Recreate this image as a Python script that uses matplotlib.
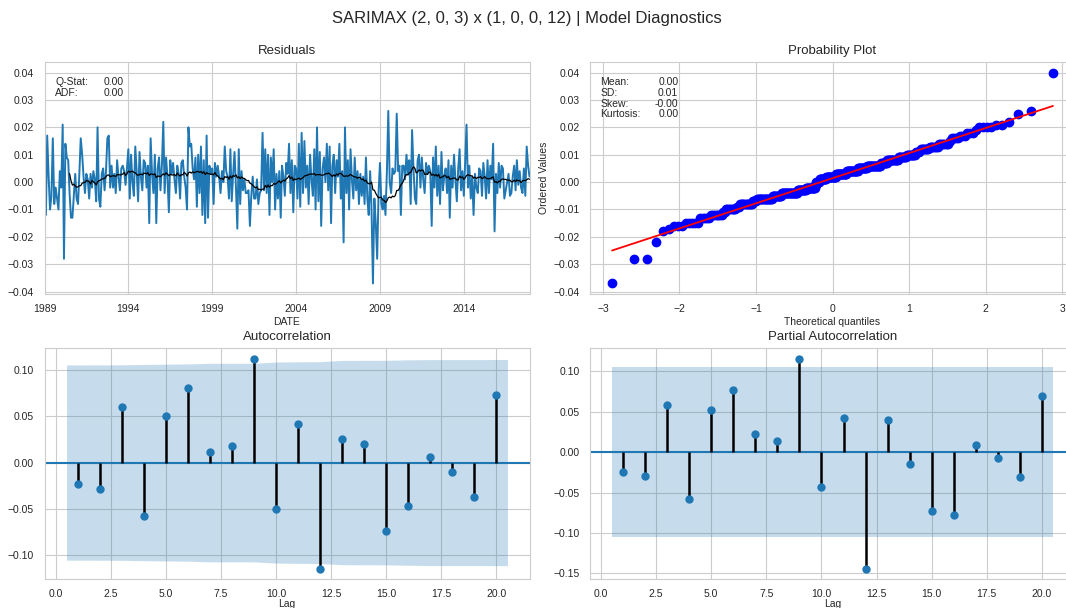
import numpy as np
import pandas as pd
import matplotlib
matplotlib.use("Agg")
import matplotlib.pyplot as plt
import matplotlib.dates as mdates
import seaborn as sns
from statistics import NormalDist

# monthly residuals; the Dec 1988 value sits just left of the plotted window
resid = [
    0.040,                                                                                 # 1988-12
    0.018, -0.012, 0.017, 0.002, -0.010, -0.005, 0.016, -0.008, -0.002, -0.006, -0.010, 0.004,   # 1989
    -0.002, 0.021, -0.028, 0.014, 0.009, 0.008, -0.004, -0.013, -0.013, -0.005, 0.003, -0.006,   # 1990
    -0.008, 0.004, 0.016, 0.010, 0.002, -0.004, 0.003, 0.001, -0.006, 0.003, -0.002, 0.004,      # 1991
    0.001, -0.007, 0.020, -0.006, -0.009, 0.003, 0.005, -0.003, 0.004, 0.016, 0.017, -0.002,     # 1992
    0.006, -0.002, 0.003, -0.004, 0.008, 0.002, -0.003, 0.005, 0.006, 0.004, -0.001, 0.005,      # 1993
    0.012, -0.006, 0.010, 0.000, -0.005, 0.013, 0.004, -0.007, 0.011, 0.002, -0.003, 0.008,      # 1994
    0.007, -0.002, 0.006, -0.015, 0.016, 0.003, -0.004, 0.010, -0.015, 0.005, 0.009, -0.003,     # 1995
    0.006, 0.022, -0.004, 0.009, 0.002, -0.011, 0.008, 0.003, 0.007, 0.001, -0.004, 0.006,       # 1996
    0.003, -0.006, 0.007, 0.008, 0.002, -0.002, -0.010, 0.020, 0.013, 0.014, 0.005, 0.001,       # 1997
    0.009, -0.009, 0.010, -0.004, 0.013, -0.012, 0.008, -0.015, 0.017, -0.013, 0.006, 0.003,     # 1998
    0.005, -0.008, 0.007, 0.002, 0.006, 0.002, -0.004, 0.004, 0.000, 0.013, 0.004, 0.002,        # 1999
    -0.006, 0.012, -0.007, 0.003, 0.011, -0.002, -0.017, 0.012, -0.008, 0.004, -0.003, 0.001,    # 2000
    -0.004, -0.004, -0.003, -0.016, -0.005, 0.002, -0.006, -0.006, 0.001, -0.008, -0.004, -0.003,  # 2001
    0.018, -0.003, 0.012, -0.004, 0.010, -0.012, 0.009, 0.000, 0.012, -0.010, 0.003, -0.006,     # 2002
    0.004, -0.013, 0.006, 0.002, -0.005, 0.007, 0.003, 0.014, -0.004, 0.008, -0.011, 0.006,      # 2003
    0.005, -0.006, 0.014, -0.009, 0.018, -0.004, 0.015, -0.002, 0.006, -0.008, 0.010, 0.001,     # 2004
    -0.005, 0.012, -0.010, 0.020, -0.007, 0.011, -0.016, 0.005, 0.009, 0.000, 0.014, -0.003,     # 2005
    0.013, -0.015, 0.006, 0.010, -0.004, 0.008, 0.002, 0.014, -0.006, 0.004, -0.022, 0.020,      # 2006
    -0.004, 0.008, -0.010, 0.012, 0.001, -0.006, 0.009, -0.003, 0.004, -0.008, 0.003, -0.005,    # 2007
    0.002, -0.008, 0.009, -0.006, -0.012, 0.004, -0.010, -0.037, -0.006, -0.015, -0.028, -0.004, # 2008
    0.007, -0.008, -0.010, -0.005, -0.012, 0.004, 0.026, 0.000, -0.004, 0.005, 0.003, 0.004,     # 2009
    0.025, 0.004, 0.006, -0.012, 0.006, 0.006, 0.001, 0.010, 0.003, 0.008, -0.008, 0.019,        # 2010
    0.005, -0.006, -0.008, 0.008, 0.010, -0.002, 0.009, 0.001, -0.004, 0.007, 0.003, 0.006,      # 2011
    0.004, -0.016, 0.009, -0.002, 0.013, -0.005, 0.006, -0.008, 0.011, -0.003, 0.002, 0.005,     # 2012
    -0.004, 0.008, -0.013, 0.006, -0.002, 0.010, 0.001, -0.007, 0.005, 0.012, -0.003, 0.004,    # 2013
    -0.005, 0.008, 0.021, -0.002, 0.006, -0.006, 0.002, -0.012, 0.003, -0.002, -0.004, 0.005,    # 2014
    0.004, -0.005, 0.007, 0.002, -0.006, 0.008, -0.004, 0.006, 0.001, 0.014, -0.018, 0.003,      # 2015
    -0.004, 0.007, -0.002, 0.006, 0.005, -0.006, -0.003, 0.000, 0.003, -0.005, -0.004, 0.002,    # 2016
    0.006, -0.003, 0.008, -0.001, 0.004, -0.002, -0.004, 0.005, -0.005, 0.013, 0.006, 0.002,     # 2017
]
start_month = "1988-12-01"
view_start, view_end = "1989-01-01", "2017-12-01"
tick_years = [1989, 1994, 1999, 2004, 2009, 2014]
roll_window = 20

lags = list(range(1, 21))
acf_vals = [-0.023, -0.028, 0.060, -0.057, 0.050, 0.080, 0.011, 0.018, 0.112, -0.050,
            0.042, -0.114, 0.025, 0.020, -0.074, -0.047, 0.006, -0.010, -0.037, 0.073]
pacf_vals = [-0.024, -0.030, 0.058, -0.058, 0.052, 0.077, 0.023, 0.014, 0.116, -0.043,
             0.042, -0.144, 0.040, -0.015, -0.073, -0.078, 0.009, -0.007, -0.031, 0.069]
nobs = 348

stat_labels = ["Mean:", "SD:", "Skew:", "Kurtosis:"]
stat_values = ["0.00", "0.01", "-0.00", "0.00"]
test_labels = ["Q-Stat:", "ADF:"]
test_values = ["0.00", "0.00"]

title = "SARIMAX (2, 0, 3) x (1, 0, 0, 12) | Model Diagnostics"

sns.set_style("whitegrid")
plt.rcParams["font.family"] = ["Liberation Sans", "DejaVu Sans"]
plt.rcParams["xtick.labelsize"] = 7.5
plt.rcParams["ytick.labelsize"] = 7.5
plt.rcParams["axes.labelsize"] = 7.5
plt.rcParams["axes.titlesize"] = 9.5

W, H = 1066, 608
fig = plt.figure(figsize=(W / 100, H / 100), dpi=100)


def box(x0, y0, x1, y1):
    return [x0 / W, 1 - y1 / H, (x1 - x0) / W, (y1 - y0) / H]


ax_res = fig.add_axes(box(44.5, 62, 529.5, 294))
ax_qq = fig.add_axes(box(590, 62, 1075, 294))
ax_acf = fig.add_axes(box(44.5, 348, 529.5, 579))
ax_pacf = fig.add_axes(box(590, 348, 1075, 579))

fig.text(527 / W, 1 - 18 / H, title, ha="center", va="center", fontsize=12, color=".15")

# residuals
series = pd.Series(resid, index=pd.date_range(start_month, periods=len(resid), freq="MS"))
ax_res.plot(series.index, series.values, color="C0", lw=1.4)
ax_res.plot(series.index, series.rolling(roll_window).mean().values, color="k", lw=0.9)
ax_res.set_xlim(pd.Timestamp(view_start), pd.Timestamp(view_end))
ax_res.set_xticks([pd.Timestamp(f"{y}-01-01") for y in tick_years])
ax_res.xaxis.set_major_formatter(mdates.DateFormatter("%Y"))
ax_res.set_xlabel("DATE", labelpad=2)
ax_res.set_title("Residuals")
ax_res.text(0.022, 0.935, "\n".join(test_labels), transform=ax_res.transAxes,
            fontsize=7.5, va="top", ha="left", linespacing=1.1)
ax_res.text(0.163, 0.935, "\n".join(test_values), transform=ax_res.transAxes,
            fontsize=7.5, va="top", ha="right", linespacing=1.1)

# probability plot (Filliben plotting positions)
ordered = np.sort(np.array(resid))
n = len(ordered)
pos = (np.arange(1, n + 1) - 0.3175) / (n + 0.365)
pos[-1] = 0.5 ** (1.0 / n)
pos[0] = 1 - pos[-1]
nd = NormalDist()
osm = np.array([nd.inv_cdf(p) for p in pos])
slope, intercept = np.polyfit(osm, ordered, 1)
ax_qq.plot(osm, ordered, "bo", markersize=6)
ax_qq.plot(osm, slope * osm + intercept, "r-", lw=1.3)
ax_qq.set_title("Probability Plot")
ax_qq.set_xlabel("Theoretical quantiles", labelpad=2)
ax_qq.set_ylabel("Ordered Values", labelpad=3)
ax_qq.text(0.021, 0.935, "\n".join(stat_labels), transform=ax_qq.transAxes,
           fontsize=7.5, va="top", ha="left", linespacing=1.1)
ax_qq.text(0.182, 0.935, "\n".join(stat_values), transform=ax_qq.transAxes,
           fontsize=7.5, va="top", ha="right", linespacing=1.1)
ax_res.set_ylim(ax_qq.get_ylim())
ax_res.set_yticks(ax_qq.get_yticks())
ax_res.set_ylim(ax_qq.get_ylim())


def corr_panel(ax, vals, band, name):
    x = np.array(lags, dtype=float)
    xb = x.copy()
    xb[0] -= 0.5
    xb[-1] += 0.5
    ax.fill_between(xb, -band, band, color="C0", alpha=0.25, lw=0)
    ax.axhline(0, color="C0", lw=1.5)
    ax.vlines(x, 0, vals, colors="k", lw=1.8)
    ax.plot(x, vals, "o", color="C0", markersize=5)
    ax.set_title(name)
    ax.set_xlabel("Lag", labelpad=0)


acf_arr = np.array(acf_vals)
var_acf = np.ones(len(acf_arr)) / nobs
var_acf[1:] *= 1 + 2 * np.cumsum(acf_arr[:-1] ** 2)
corr_panel(ax_acf, acf_arr, 1.96 * np.sqrt(var_acf), "Autocorrelation")
corr_panel(ax_pacf, np.array(pacf_vals), np.full(len(pacf_vals), 1.96 / np.sqrt(nobs)),
           "Partial Autocorrelation")

for ax in (ax_res, ax_qq, ax_acf, ax_pacf):
    ax.tick_params(colors=".15", pad=4)

fig.savefig("out.png", dpi=100)
